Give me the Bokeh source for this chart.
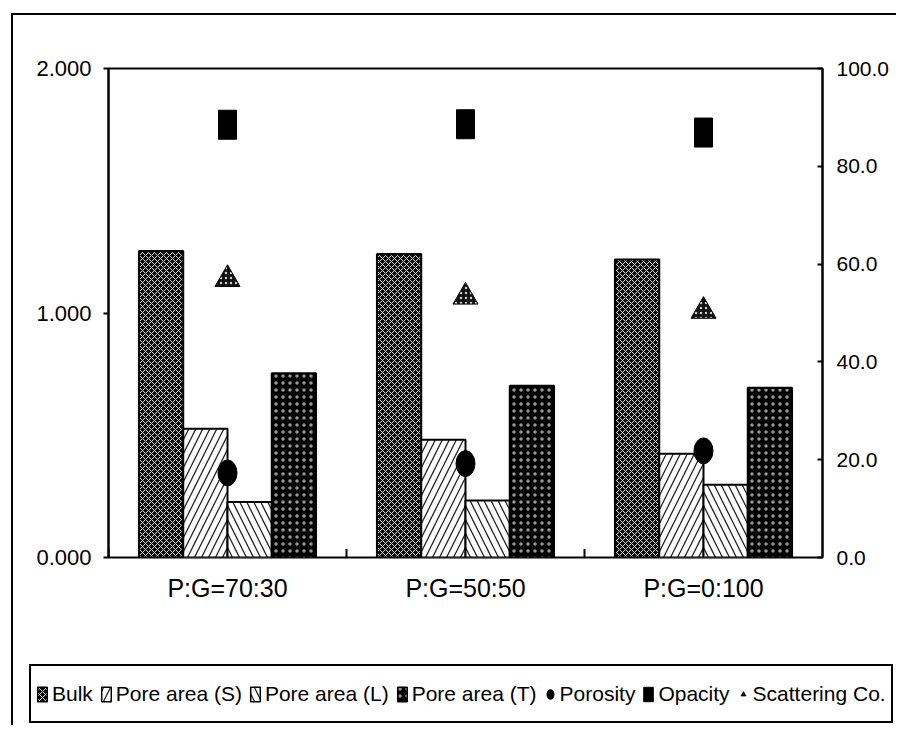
from bokeh.plotting import figure
from bokeh.models import (ColumnDataSource, FactorRange, Range1d, LinearAxis, CategoricalAxis,
                          FixedTicker, NumeralTickFormatter, Legend, LegendItem)
from bokeh.transform import dodge
from bokeh.embed import file_html
from bokeh.resources import INLINE

categories = ["P:G=70:30", "P:G=50:50", "P:G=0:100"]
bulk = [1.254, 1.241, 1.219]
pore_s = [0.527, 0.482, 0.424]
pore_l = [0.227, 0.233, 0.298]
pore_t = [0.754, 0.702, 0.694]
porosity = [17.3, 19.2, 21.8]
opacity = [88.5, 88.6, 86.9]
scattering = [56.9, 53.3, 50.4]
left_ticks = [0, 1, 2]
right_ticks = [0, 20, 40, 60, 80, 100]
series_names = ["Bulk", "Pore area (S)", "Pore area (L)", "Pore area (T)",
                "Porosity", "Opacity", "Scattering Co."]

FONT = "Liberation Sans"

src = ColumnDataSource(dict(cat=categories, bulk=bulk, pore_s=pore_s, pore_l=pore_l,
                            pore_t=pore_t, porosity=porosity, opacity=opacity,
                            scattering=scattering))

W = 0.186
bar_styles = [
    dict(fill_color="#0a0a0a", hatch_pattern="x", hatch_color="#d8d8d8", hatch_scale=6, hatch_weight=1),
    dict(fill_color="white", hatch_pattern="/", hatch_color="#222222", hatch_scale=14, hatch_weight=1.3),
    dict(fill_color="white", hatch_pattern="\\", hatch_color="#222222", hatch_scale=14, hatch_weight=1.3),
    dict(fill_color="black", hatch_pattern=".", hatch_color="#999999", hatch_scale=7, hatch_weight=1),
]
offsets = [-0.279, -0.093, 0.093, 0.279]
bar_cols = ["bulk", "pore_s", "pore_l", "pore_t"]
por_style = dict(width=19, height=26, width_units="screen", height_units="screen",
                 fill_color="black", line_color="black")
opa_style = dict(width=18, height=29, width_units="screen", height_units="screen",
                 fill_color="black", line_color="black")
sca_style = dict(marker="triangle", size=25, fill_color="#111111", line_color="black",
                 line_width=1, hatch_pattern=".", hatch_color="#cccccc", hatch_scale=5)


def draw_markers(fig, right_name):
    rs = []
    rs.append(fig.ellipse(x="cat", y="porosity", y_range_name=right_name, source=src, **por_style))
    rs.append(fig.rect(x="cat", y="opacity", y_range_name=right_name, source=src, **opa_style))
    rs.append(fig.scatter(x="cat", y="scattering", y_range_name=right_name, source=src, **sca_style))
    return rs


# ---------------- main chart ----------------
p = figure(width=885, height=595, x_range=FactorRange(*categories, range_padding=0),
           y_range=Range1d(0, 2), output_backend="svg", toolbar_location=None,
           x_axis_location=None, y_axis_location=None,
           min_border_left=95, min_border_right=76, min_border_top=53, min_border_bottom=53)
p.margin = (13, 0, 0, 11)
p.styles = {"border-left": "2px solid black", "border-top": "2px solid black"}
p.xgrid.grid_line_color = None
p.ygrid.grid_line_color = None
p.outline_line_color = "black"
p.outline_line_width = 2
p.outline_line_alpha = 1
p.background_fill_color = "white"
p.border_fill_color = "white"

p.extra_y_ranges = {"right": Range1d(0, 100)}

ly = LinearAxis(ticker=FixedTicker(ticks=left_ticks),
                formatter=NumeralTickFormatter(format="0.000"))
ly.axis_line_width = 2
ly.major_tick_in = 0
ly.major_tick_out = 5
ly.major_tick_line_width = 2
ly.minor_tick_line_color = None
ly.major_label_standoff = 12
ly.major_label_text_font = FONT
ly.major_label_text_font_size = "22px"
ly.major_label_text_color = "black"
p.add_layout(ly, "left")

ry = LinearAxis(y_range_name="right", ticker=FixedTicker(ticks=right_ticks),
                formatter=NumeralTickFormatter(format="0.0"))
ry.axis_line_width = 2
ry.major_tick_in = 5
ry.major_tick_out = 0
ry.major_tick_line_width = 2
ry.minor_tick_line_color = None
ry.major_label_standoff = 14
ry.major_label_text_font = FONT
ry.major_label_text_font_size = "21px"
ry.major_label_text_color = "black"
p.add_layout(ry, "right")

cx = CategoricalAxis()
cx.axis_line_color = None
cx.major_tick_line_color = None
cx.major_label_standoff = 10
cx.major_label_text_font = FONT
cx.major_label_text_font_size = "25px"
cx.major_label_text_color = "black"
p.add_layout(cx, "below")

# small tick marks on the category boundaries
p.segment(x0=dodge("cat", -0.5, range=p.x_range), y0=0,
          x1=dodge("cat", -0.5, range=p.x_range), y1=0.035,
          source=src, line_color="black", line_width=2)

for off, col, st in zip(offsets, bar_cols, bar_styles):
    p.vbar(x=dodge("cat", off, range=p.x_range), top=col, width=W,
           source=src, line_color="black", line_width=2, **st)
draw_markers(p, "right")

# ---------------- legend strip (its view window shows no data, only the legend) ----------------
q = figure(width=885, height=117, x_range=FactorRange(*categories, range_padding=0),
           y_range=Range1d(-3, -2), output_backend="svg", toolbar_location=None,
           x_axis_location=None, y_axis_location=None, min_border=0)
q.margin = (0, 0, 0, 11)
q.styles = {"border-left": "2px solid black"}
q.extra_y_ranges = {"right": Range1d(-3, -2)}
q.xgrid.grid_line_color = None
q.ygrid.grid_line_color = None
q.outline_line_color = None
q.background_fill_color = "white"
q.border_fill_color = "white"

lr = []
for col, st in zip(bar_cols, bar_styles):
    lr.append(q.rect(x="cat", y=col, width=12, height=18, width_units="screen",
                     height_units="screen", source=src, line_color="black",
                     line_width=1.5, **st))
lr += draw_markers(q, "right")

legend = Legend(items=[LegendItem(label=n, renderers=[r]) for n, r in zip(series_names, lr)],
                orientation="horizontal", location=(16, 2))
legend.label_text_font = FONT
legend.label_text_font_size = "21px"
legend.label_text_color = "black"
legend.glyph_width = 12
legend.glyph_height = 18
legend.label_height = 45
legend.label_standoff = 4
legend.spacing = 7
legend.padding = 5
legend.margin = 0
legend.border_line_color = "black"
legend.border_line_width = 2
legend.border_line_alpha = 1
legend.background_fill_color = "white"
legend.background_fill_alpha = 1
q.add_layout(legend, "center")

open("out.html", "w").write(file_html([p, q], INLINE))
